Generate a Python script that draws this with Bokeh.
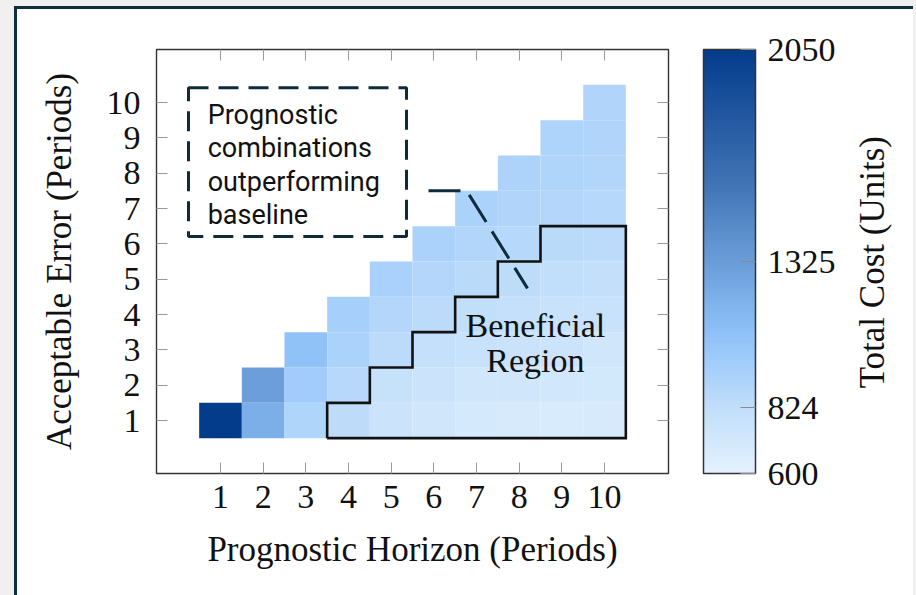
from math import pi
from bokeh.plotting import figure
from bokeh.models import (ColumnDataSource, LinearColorMapper, ColorBar, FixedTicker,
                          LinearAxis, Range1d, Label, BoxAnnotation, GlobalInlineStyleSheet)
from bokeh.transform import transform
from bokeh.embed import file_html
from bokeh.resources import INLINE

# ---------------- data ----------------
horizon = [1, 2, 3, 4, 5, 6, 7, 8, 9, 10,
           2, 3, 4, 5, 6, 7, 8, 9, 10,
           3, 4, 5, 6, 7, 8, 9, 10,
           4, 5, 6, 7, 8, 9, 10,
           5, 6, 7, 8, 9, 10,
           6, 7, 8, 9, 10,
           7, 8, 9, 10,
           8, 9, 10,
           9, 10,
           10]
error = [1, 1, 1, 1, 1, 1, 1, 1, 1, 1,
         2, 2, 2, 2, 2, 2, 2, 2, 2,
         3, 3, 3, 3, 3, 3, 3, 3,
         4, 4, 4, 4, 4, 4, 4,
         5, 5, 5, 5, 5, 5,
         6, 6, 6, 6, 6,
         7, 7, 7, 7,
         8, 8, 8,
         9, 9,
         10]
cost = [2050, 1205, 910, 840, 760, 730, 705, 690, 680, 685,
        1310, 985, 875, 795, 760, 740, 730, 720, 715,
        1080, 930, 850, 805, 780, 765, 755, 735,
        960, 890, 850, 820, 800, 785, 780,
        945, 890, 860, 845, 825, 810,
        930, 895, 880, 860, 850,
        930, 905, 890, 880,
        925, 910, 900,
        915, 905,
        905]

benefit_horizon = [4, 5, 6, 7, 8, 9, 10]
benefit_max_error = [1, 2, 3, 4, 5, 6, 6]

x_ticks = [1, 2, 3, 4, 5, 6, 7, 8, 9, 10]
y_ticks = [1, 2, 3, 4, 5, 6, 7, 8, 9, 10]
cbar_ticks = [600, 824, 1325, 2050]
cost_low, cost_high = 600, 2050

note_lines = ["Prognostic", "combinations", "outperforming", "baseline"]
cbar_title = "Total Cost (Units)"

# ---------------- palette (colormap style) ----------------
anchors = [(0.0, (228, 242, 253)), (224 / 1450, (193, 222, 250)), (400 / 1450, (157, 202, 251)),
           (500 / 1450, (140, 190, 246)), (725 / 1450, (106, 157, 216)), (1000 / 1450, (64, 115, 180)),
           (1.0, (4, 60, 140))]
palette = []
N = 256
for i in range(N):
    t = i / (N - 1)
    for (t0, c0), (t1, c1) in zip(anchors[:-1], anchors[1:]):
        if t0 <= t <= t1:
            f = (t - t0) / (t1 - t0)
            c = [round(a + (b - a) * f) for a, b in zip(c0, c1)]
            break
    palette.append("#%02x%02x%02x" % tuple(c))

mapper = LinearColorMapper(palette=palette, low=cost_low, high=cost_high)
src = ColumnDataSource(dict(horizon=horizon, error=error, cost=cost))

SERIF = "Liberation Serif"
INK = "#111111"
NAVY = "#0e2b3b"

p = figure(width=899, height=590, x_range=Range1d(-0.5, 11.5), y_range=Range1d(-0.5, 11.5),
           output_backend="svg", toolbar_location=None,
           min_border_left=139, min_border_top=40, min_border_bottom=126, min_border_right=248)
p.grid.visible = False
p.outline_line_color = "#333333"
p.outline_line_width = 1.4
p.background_fill_color = "white"
p.border_fill_color = "white"

p.rect(x="horizon", y="error", width=1, height=1, source=src,
       fill_color=transform("cost", mapper), line_color=None)

# beneficial region outline
bx, by = [benefit_horizon[0] - 0.5], [0.5]
for h, m in zip(benefit_horizon, benefit_max_error):
    bx += [h - 0.5, h + 0.5]
    by += [m + 0.5, m + 0.5]
bx += [benefit_horizon[-1] + 0.5, benefit_horizon[0] - 0.5]
by += [0.5, 0.5]
p.line(bx, by, line_color="#111111", line_width=2.6, line_join="miter")

# annotation box + leader
p.add_layout(BoxAnnotation(left=0.25, right=5.36, bottom=6.21, top=10.42, fill_alpha=0,
                           line_color=NAVY, line_alpha=1.0, line_width=3, line_dash="20 10"))
p.line([5.875, 6.77, 8.195], [7.5, 7.5, 4.74], line_color=NAVY, line_width=3, line_dash="32 11")

for i, line in enumerate(note_lines):
    p.add_layout(Label(x=0.70, y=9.66 - i * 0.948, text=line,
                       text_font="Roboto", text_font_size="27px", text_color="#111111",
                       text_baseline="alphabetic", text_align="left"))

p.add_layout(Label(x=8.38, y=3.69, text="Beneficial", text_font=SERIF, text_font_size="34px",
                   text_color=INK, text_align="center", text_baseline="middle"))
p.add_layout(Label(x=8.38, y=2.70, text="Region", text_font=SERIF, text_font_size="34px",
                   text_color=INK, text_align="center", text_baseline="middle"))

# axes
for ax, ticks in ((p.xaxis[0], x_ticks), (p.yaxis[0], y_ticks)):
    ax.ticker = FixedTicker(ticks=ticks)
    ax.axis_line_color = None
    ax.major_tick_in = 11
    ax.major_tick_out = 0
    ax.major_tick_line_color = "#9a9a9a"
    ax.minor_tick_line_color = None
    ax.major_label_text_font = SERIF
    ax.major_label_text_font_size = "34px"
    ax.major_label_text_color = INK
    ax.axis_label_text_font = SERIF
    ax.axis_label_text_font_size = "35px"
    ax.axis_label_text_font_style = "normal"
    ax.axis_label_text_color = INK
p.xaxis.axis_label = "Prognostic Horizon (Periods)"
p.yaxis.axis_label = "Acceptable Error (Periods)"
p.xaxis.major_label_standoff = 12
p.xaxis.axis_label_standoff = 19
p.yaxis.major_label_standoff = 16
p.yaxis.axis_label_standoff = 25

for side, ticks in (("above", x_ticks), ("right", y_ticks)):
    ax = LinearAxis(ticker=FixedTicker(ticks=ticks), axis_line_color=None,
                    major_tick_in=11, major_tick_out=0, major_tick_line_color="#9a9a9a",
                    minor_tick_line_color=None, major_label_text_font_size="1px",
                    major_label_text_alpha=0, major_label_standoff=0)
    p.add_layout(ax, side)

cb = ColorBar(color_mapper=mapper, ticker=FixedTicker(ticks=cbar_ticks), width=52, height=424,
              location=(35, 0),
              padding=0, margin=0, bar_line_color="#333333", bar_line_width=1.5,
              major_tick_line_color="#8a8a8a", major_tick_in=15, major_tick_out=0,
              minor_tick_line_color=None, label_standoff=12,
              major_label_text_font=SERIF, major_label_text_font_size="34px",
              major_label_text_color=INK, background_fill_alpha=0, border_line_color=None)
p.add_layout(cb, "right")

# colour bar title: a single rotated tick label on an otherwise empty right axis;
# the rotated text starts at its tick, so the tick sits at the lower end of the text
title_anchor = 1.91
title_ax = LinearAxis(ticker=FixedTicker(ticks=[title_anchor]), axis_line_color=None,
                      major_tick_in=0, major_tick_out=0, major_tick_line_color=None,
                      minor_tick_line_color=None,
                      major_label_overrides={title_anchor: cbar_title},
                      major_label_orientation=pi / 2, major_label_standoff=34,
                      major_label_text_font=SERIF, major_label_text_font_size="35px",
                      major_label_text_color=INK)
p.add_layout(title_ax, "right")

# page frame (card border look)
p.stylesheets = [GlobalInlineStyleSheet(
    css="html, body {margin:0 !important; padding:0; background:#f0f0f0; overflow:hidden;}")]
p.styles = {"margin-left": "14px", "margin-top": "6px",
            "border-left": "3px solid #0e2f40", "border-top": "3px solid #0e2f40",
            "background-color": "white"}

open("out.html", "w").write(file_html(p, INLINE))
